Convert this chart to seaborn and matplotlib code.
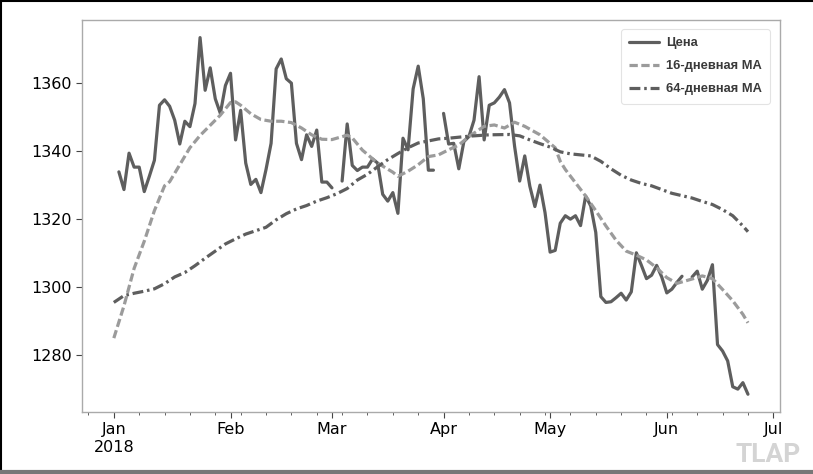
import numpy as np
import pandas as pd
import matplotlib
matplotlib.use("Agg")
import matplotlib.pyplot as plt
import seaborn as sns

# ---------------- data (business days 2018-01-01 .. 2018-06-25) ----------------
start_date = "2018-01-01"
end_date = "2018-06-25"

price = [
    np.nan, 1333.9, 1328.7, 1339.4, 1335.3, 1335.3, 1328.1, 1332.6, 1337.3, 1353.5,
    1355.1, 1353.2, 1349.1, 1342.1, 1348.8, 1347.2, 1354.0, 1373.4, 1357.9, 1364.5,
    1355.4, 1351.1, 1359.3, 1362.9, 1343.3, 1352.0, 1336.5, 1330.2, 1331.7, 1327.8,
    1334.6, 1342.3, 1364.2, 1367.1, 1361.3, 1360.0, 1342.3, 1337.5, 1344.8, 1341.4,
    1346.2, 1330.9, 1330.9, 1329.2, np.nan, 1331.2, 1348.0, 1335.8, 1334.3, 1335.3,
    1335.3, 1337.7, 1336.5, 1327.3, 1325.3, 1327.8, 1321.7, 1343.8, 1340.4, 1358.3,
    1365.0, 1355.4, 1334.4, 1334.4, np.nan, 1351.1, 1342.1, 1342.3, 1334.8, 1342.8,
    1344.3, 1349.1, 1361.9, 1343.3, 1353.5, 1354.2, 1355.9, 1358.1, 1354.2, 1341.4,
    1331.2, 1338.6, 1329.7, 1323.7, 1330.0, 1321.9, 1310.3, 1310.8, 1318.8, 1321.0,
    1320.0, 1321.0, 1318.1, 1326.8, 1323.9, 1316.1, 1297.2, 1295.5, 1295.7, 1296.9,
    1298.2, 1296.2, 1298.6, 1310.1, 1306.4, 1302.5, 1303.5, 1306.4, 1303.0, 1298.3,
    1299.4, 1301.4, 1303.2, np.nan, 1303.0, 1304.7, 1299.4, 1302.0, 1306.6, 1283.1,
    1281.2, 1278.3, 1270.7, 1270.0, 1271.9, 1268.5,
]

ma16_idx = [0, 2, 4, 6, 8, 10, 11, 13, 15, 17, 19, 21, 23, 24, 25, 27, 29, 31, 33, 35,
            37, 39, 41, 43, 46, 47, 49, 52, 55, 56, 58, 60, 62, 64, 66, 68, 70, 73, 75,
            77, 79, 81, 84, 87, 88, 89, 91, 93, 95, 97, 99, 101, 103, 105, 107, 109,
            111, 114, 116, 118, 120, 122, 124, 125]
ma16_val = [1285.0, 1294.5, 1305.5, 1313.5, 1322.5, 1329.8, 1331.0, 1336.0, 1341.0,
            1344.6, 1347.6, 1350.6, 1354.3, 1354.5, 1353.5, 1351.0, 1349.3, 1348.8,
            1348.8, 1348.4, 1346.8, 1344.8, 1343.5, 1343.4, 1344.7, 1343.9, 1340.3,
            1336.5, 1333.8, 1332.6, 1334.1, 1336.0, 1338.4, 1338.9, 1340.4, 1341.8,
            1344.3, 1347.3, 1347.7, 1346.8, 1348.5, 1347.3, 1344.8, 1341.0, 1337.0,
            1334.6, 1330.7, 1326.8, 1322.5, 1318.0, 1313.8, 1310.6, 1309.4, 1308.0,
            1305.7, 1302.8, 1301.1, 1302.4, 1303.3, 1302.5, 1299.3, 1296.0, 1292.0,
            1289.5]

ma64_idx = [0, 2, 4, 6, 8, 10, 12, 14, 16, 18, 20, 22, 24, 26, 28, 30, 32, 34, 36, 38,
            40, 42, 44, 46, 48, 50, 52, 54, 56, 58, 60, 62, 64, 66, 70, 74, 78, 80, 82,
            84, 86, 88, 90, 94, 96, 98, 100, 102, 104, 106, 108, 110, 112, 114, 116,
            118, 120, 122, 124, 125]
ma64_val = [1295.5, 1297.5, 1298.2, 1298.8, 1299.5, 1301.0, 1303.0, 1304.3, 1306.3,
            1308.5, 1310.6, 1312.7, 1314.2, 1315.6, 1316.6, 1317.6, 1319.8, 1321.6,
            1323.0, 1324.0, 1325.3, 1326.3, 1327.5, 1329.0, 1331.5, 1333.2, 1335.4,
            1337.5, 1339.3, 1341.0, 1342.4, 1343.0, 1343.6, 1343.8, 1344.4, 1344.8,
            1344.9, 1344.5, 1343.3, 1342.2, 1341.2, 1339.8, 1339.2, 1338.6, 1337.0,
            1334.8, 1332.9, 1331.5, 1330.5, 1329.8, 1328.7, 1327.6, 1326.9, 1326.2,
            1325.2, 1324.3, 1322.8, 1321.0, 1318.0, 1316.3]

month_starts = ["2018-01-01", "2018-02-01", "2018-03-01", "2018-04-02",
                "2018-05-01", "2018-06-01", "2018-07-02"]
month_labels = ["Jan\n2018", "Feb", "Mar", "Apr", "May", "Jun", "Jul"]
y_ticks = [1280, 1300, 1320, 1340, 1360]
labels = ["Цена", "16-дневная MA", "64-дневная MA"]

# ---------------- build frames ----------------
dates = pd.bdate_range(start_date, end_date)
pos = np.arange(len(dates))
price_arr = np.array(price, dtype=float)
seg = np.cumsum(np.isnan(price_arr))
df_price = pd.DataFrame({"pos": pos, "price": price_arr, "seg": seg}).dropna()
df16 = pd.DataFrame({"pos": pos[ma16_idx], "val": ma16_val})
df64 = pd.DataFrame({"pos": pos[ma64_idx], "val": ma64_val})

def bpos(d):
    return np.busday_count(np.datetime64(start_date), np.datetime64(d))

# ---------------- plot ----------------
sns.set_theme(style="white")
plt.rcParams["font.family"] = ["DejaVu Sans"]

fig = plt.figure(figsize=(8.13, 4.74), dpi=100)
ax = fig.add_axes([0.101, 0.131, 0.858, 0.827])

dark = "#5e5e5e"
light = "#9b9b9b"
lw = 2.3

sns.lineplot(data=df_price, x="pos", y="price", units="seg", estimator=None,
             color=dark, lw=lw, ax=ax, legend=False)
n_price = len(ax.get_lines())
sns.lineplot(data=df16, x="pos", y="val", color=light, lw=lw, ax=ax, legend=False)
sns.lineplot(data=df64, x="pos", y="val", color=dark, lw=lw, ax=ax, legend=False)
lines = ax.get_lines()
h_price, h16, h64 = lines[0], lines[n_price], lines[n_price + 1]
h16.set_dashes((2.6, 1.1))
h64.set_dashes((3.4, 1.2, 0.8, 1.2))

ax.set_xlim(-0.05 * (len(dates) - 1), (len(dates) - 1) * 1.05)
ax.set_ylim(1263.3, 1378.6)

major = [bpos(d) for d in month_starts]
mondays = pd.date_range("2017-12-25", "2018-07-02", freq="W-MON")
minor = [bpos(d.strftime("%Y-%m-%d")) for d in mondays]
ax.set_xticks(major)
ax.set_xticklabels(month_labels)
ax.set_xticks(minor, minor=True)
ax.set_yticks(y_ticks)
ax.set_xlabel("")
ax.set_ylabel("")
ax.tick_params(axis="both", which="major", labelsize=11.5, length=4, width=0.8,
               color="#444444", bottom=True, left=True, labelcolor="black")
ax.tick_params(axis="x", which="minor", length=2, width=0.6, color="#444444", bottom=True)
for s in ax.spines.values():
    s.set_color("#aaaaaa")
    s.set_linewidth(1.0)

leg = ax.legend([h_price, h16, h64], labels, loc="upper right",
                prop={"family": "Liberation Sans", "weight": "bold", "size": 9.3},
                frameon=True, handlelength=2.3, labelspacing=0.85, borderpad=0.65,
                bbox_to_anchor=(0.986, 0.977), borderaxespad=0.0, handletextpad=0.5)
leg.get_frame().set_edgecolor("#dddddd")
leg.get_frame().set_linewidth(0.8)
for t in leg.get_texts():
    t.set_color("#3a3a3a")

fig.text(0.985, 0.014, "TLAP", ha="right", va="bottom", fontsize=19,
         fontweight="bold", color="#d4d4d4", family="Roboto")

# screenshot-style border
fig.add_artist(plt.Line2D([0, 1], [0.998, 0.998], transform=fig.transFigure, color="black", lw=1.5))
fig.add_artist(plt.Line2D([0.001, 0.001], [0, 1], transform=fig.transFigure, color="black", lw=1.5))
fig.add_artist(plt.Line2D([0, 1], [0.004, 0.004], transform=fig.transFigure, color="#777777", lw=3))

fig.savefig("out.png", dpi=100)
